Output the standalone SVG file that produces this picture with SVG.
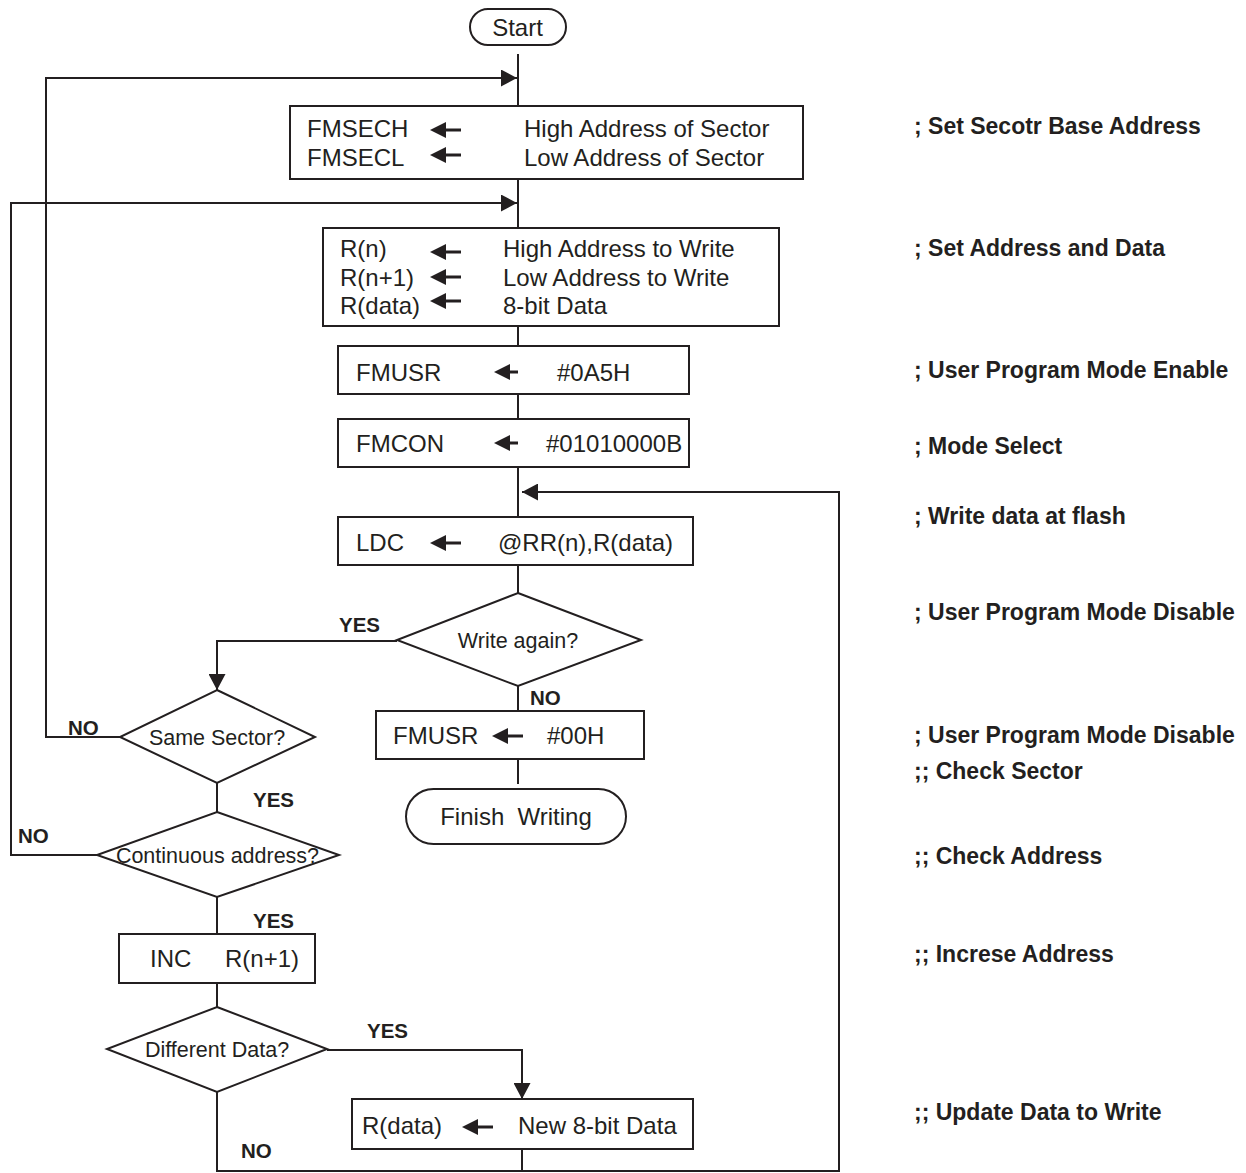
<svg xmlns="http://www.w3.org/2000/svg" width="1246" height="1173" viewBox="0 0 1246 1173">
<style>
.bg{fill:#ffffff}
.box{fill:#ffffff;stroke:#231f20;stroke-width:2}
.ln{fill:none;stroke:#231f20;stroke-width:2}
.t{font-family:"Liberation Sans",Arial,sans-serif;font-size:24px;fill:#231f20}
.td{font-family:"Liberation Sans",Arial,sans-serif;font-size:21.5px;fill:#231f20}
.lb{font-family:"Liberation Sans",Arial,sans-serif;font-size:20.5px;font-weight:bold;fill:#231f20}
.cm{font-family:"Liberation Sans",Arial,sans-serif;font-size:23px;font-weight:bold;fill:#231f20}
.ah{fill:#231f20}
.mid{text-anchor:middle}
</style>
<defs>
<marker id="arr" viewBox="0 0 16 17" refX="16" refY="8.5" markerWidth="16" markerHeight="17" markerUnits="userSpaceOnUse" orient="auto">
<path d="M0,0 L16,8.5 L0,17 Z" class="ah"/>
</marker>
<g id="larrL"><path d="M0,0 L16,-8 L16,8 Z" class="ah"/><path d="M12,0 H31" stroke="#231f20" stroke-width="3"/></g>
<g id="larrS"><path d="M0,0 L16,-8 L16,8 Z" class="ah"/><path d="M12,0 H24" stroke="#231f20" stroke-width="3"/></g>
</defs>
<rect class="bg" x="0" y="0" width="1246" height="1173"/>

<g id="connectors">
<path class="ln" d="M518,54 V106"/>
<path class="ln" d="M120,737 H46 V78 H517" marker-end="url(#arr)"/>
<path class="ln" d="M518,179 V228"/>
<path class="ln" d="M97,855 H11 V203 H517" marker-end="url(#arr)"/>
<path class="ln" d="M518,326 V346"/>
<path class="ln" d="M518,394 V419"/>
<path class="ln" d="M518,467 V517"/>
<path class="ln" d="M217,1092 V1171 H839 V492 H522" marker-end="url(#arr)"/>
<path class="ln" d="M518,565 V593"/>
<path class="ln" d="M397,641 H217 V690" marker-end="url(#arr)"/>
<path class="ln" d="M518,686 V711"/>
<path class="ln" d="M518,759 V784"/>
<path class="ln" d="M217,783 V812"/>
<path class="ln" d="M217,897 V934"/>
<path class="ln" d="M217,983 V1007"/>
<path class="ln" d="M327,1050 H522 V1099" marker-end="url(#arr)"/>
<path class="ln" d="M522,1149 V1171"/>
</g>

<g id="labels">
<text class="lb" x="339" y="632">YES</text>
<text class="lb" x="530" y="705">NO</text>
<text class="lb" x="68" y="735">NO</text>
<text class="lb" x="253" y="807">YES</text>
<text class="lb" x="18" y="843">NO</text>
<text class="lb" x="253" y="928">YES</text>
<text class="lb" x="367" y="1038">YES</text>
<text class="lb" x="241" y="1158">NO</text>
</g>

<g id="start">
<rect class="box" x="470" y="9" width="96" height="36" rx="18"/>
<text class="t mid" x="517.5" y="35.5">Start</text>
</g>

<g id="setSector">
<rect class="box" x="290" y="106" width="513" height="73"/>
<text class="t" x="307" y="136.5">FMSECH</text>
<use href="#larrL" x="430" y="130"/>
<text class="t" x="524" y="136.5">High Address of Sector</text>
<text class="t" x="307" y="165.5">FMSECL</text>
<use href="#larrL" x="430" y="155"/>
<text class="t" x="524" y="165.5">Low Address of Sector</text>
</g>

<g id="setAddr">
<rect class="box" x="323" y="228" width="456" height="98"/>
<text class="t" x="340" y="256.5">R(n)</text>
<use href="#larrL" x="430" y="252"/>
<text class="t" x="503" y="256.5">High Address to Write</text>
<text class="t" x="340" y="285.5">R(n+1)</text>
<use href="#larrL" x="430" y="277"/>
<text class="t" x="503" y="285.5">Low Address to Write</text>
<text class="t" x="340" y="313.5">R(data)</text>
<use href="#larrL" x="430" y="301"/>
<text class="t" x="503" y="313.5">8-bit Data</text>
</g>

<g id="fmusrEnable">
<rect class="box" x="338" y="346" width="351" height="48"/>
<text class="t" x="356" y="380.5">FMUSR</text>
<use href="#larrS" x="494" y="372"/>
<text class="t" x="557" y="380.5">#0A5H</text>
</g>

<g id="fmcon">
<rect class="box" x="338" y="419" width="351" height="48"/>
<text class="t" x="356" y="451.5">FMCON</text>
<use href="#larrS" x="494" y="443"/>
<text class="t" x="546" y="451.5">#01010000B</text>
</g>

<g id="ldc">
<rect class="box" x="338" y="517" width="355" height="48"/>
<text class="t" x="356" y="550.5">LDC</text>
<use href="#larrL" x="430" y="543"/>
<text class="t" x="498" y="550.5">@RR(n),R(data)</text>
</g>

<g id="writeAgain">
<polygon class="box" points="518,593 641,640 518,686 397,640"/>
<text class="td mid" x="518" y="647.5">Write again?</text>
</g>

<g id="fmusrDisable">
<rect class="box" x="376" y="711" width="268" height="48"/>
<text class="t" x="393" y="743.5">FMUSR</text>
<use href="#larrL" x="492" y="736"/>
<text class="t" x="547" y="743.5">#00H</text>
</g>

<g id="finish">
<rect class="box" x="406" y="789" width="220" height="55" rx="27.5"/>
<text class="t mid" x="516" y="824.5" xml:space="preserve">Finish  Writing</text>
</g>

<g id="sameSector">
<polygon class="box" points="217,690 315,737 217,783 120,737"/>
<text class="td mid" x="217" y="744.5">Same Sector?</text>
</g>

<g id="contAddr">
<polygon class="box" points="217,812 339,855 217,897 97,855"/>
<text class="td mid" x="217.5" y="862.5">Continuous address?</text>
</g>

<g id="inc">
<rect class="box" x="119" y="934" width="196" height="49"/>
<text class="t" x="150" y="966.5">INC</text>
<text class="t" x="225" y="966.5">R(n+1)</text>
</g>

<g id="diffData">
<polygon class="box" points="217,1007 327,1049 217,1092 107,1049"/>
<text class="td mid" x="217" y="1056.5">Different Data?</text>
</g>

<g id="newData">
<rect class="box" x="352" y="1099" width="341" height="50"/>
<text class="t" x="362" y="1133.5">R(data)</text>
<use href="#larrL" x="462" y="1127"/>
<text class="t" x="518" y="1133.5">New 8-bit Data</text>
</g>

<g id="comments">
<text class="cm" x="914" y="134">; Set Secotr Base Address</text>
<text class="cm" x="914" y="256">; Set Address and Data</text>
<text class="cm" x="914" y="378">; User Program Mode Enable</text>
<text class="cm" x="914" y="454">; Mode Select</text>
<text class="cm" x="914" y="524">; Write data at flash</text>
<text class="cm" x="914" y="620">; User Program Mode Disable</text>
<text class="cm" x="914" y="743">; User Program Mode Disable</text>
<text class="cm" x="914" y="779">;; Check Sector</text>
<text class="cm" x="914" y="864">;; Check Address</text>
<text class="cm" x="914" y="962">;; Increse Address</text>
<text class="cm" x="914" y="1120">;; Update Data to Write</text>
</g>
</svg>
